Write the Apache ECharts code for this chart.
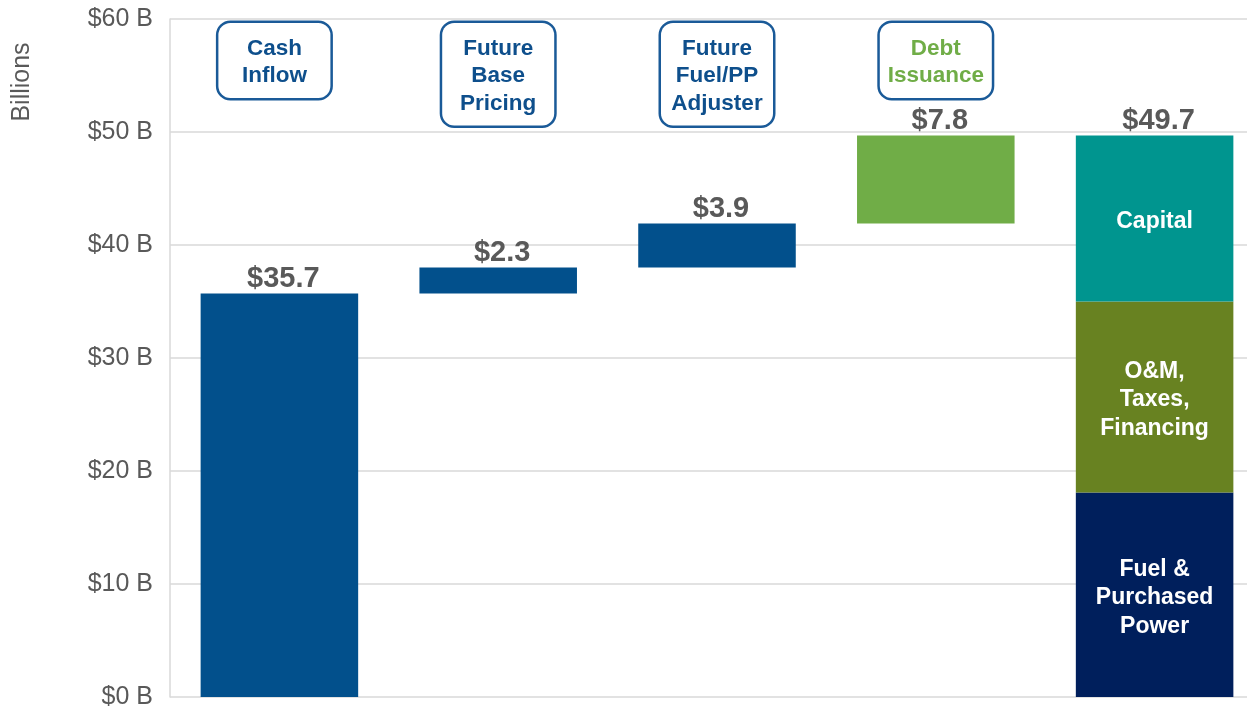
<!DOCTYPE html>
<html>
<head>
<meta charset="utf-8">
<title>Cash flow waterfall</title>
<script src="https://cdn.jsdelivr.net/npm/echarts@6/dist/echarts.min.js"></script>
<style>
    html, body { margin: 0; padding: 0; background: #fff; overflow: hidden; }
    /* 最后一列的右半部分在原图里被裁掉了，所以画布比窗口宽一点 */
    #chart { width: 1264px; height: 713px; }
</style>
</head>
<body>
<div id="chart"></div>
<script>
// 数据
const categories = ['Cash\nInflow', 'Future\nBase\nPricing', 'Future\nFuel/PP\nAdjuster', 'Debt\nIssuance', 'Total'];
const steps = [35.7, 2.3, 3.9, 7.8];          // 瀑布各步
const fuelPower = ['-', '-', '-', '-', 18.1];  // 最后一根柱子的构成
const omTaxFin = ['-', '-', '-', '-', 16.9];
const capital = ['-', '-', '-', '-', 14.7];
const totalLabel = 49.7;
const yTicks = { min: 0, max: 60, interval: 10 };

(function () {
    let myChart = echarts.init(document.getElementById('chart'));

    // 透明底座 = 前面各步累加
    let base = [];
    let acc = 0;
    steps.forEach(function (v, i) {
        base.push(i === 0 ? 0 : acc);
        acc += v;
    });
    base.push('-');

    let stepData = steps.map(function (v, i) {
        return {
            value: v,
            itemStyle: { color: i === 3 ? '#70AD47' : '#02508C' }
        };
    });
    stepData.push('-');

    // 顶部的圆角框
    let boxData = categories.slice(0, 4).map(function (c, i) {
        let item = { value: yTicks.max, name: c };
        if (i === 0) item.label = { offset: [-5, 0] };
        if (i === 3) item.label = { color: '#70AD47' };
        return item;
    });

    const valueLabel = {
        show: true,
        position: 'top',
        distance: 3,
        offset: [4, 3],
        color: '#595959',
        fontSize: 29,
        fontWeight: 'bold',
        fontFamily: 'Liberation Sans, Arial, sans-serif'
    };
    const innerLabel = {
        show: true,
        position: 'inside',
        offset: [0, 3],
        color: '#fff',
        fontSize: 23,
        lineHeight: 28.5,
        fontWeight: 'bold',
        fontFamily: 'Liberation Sans, Arial, sans-serif'
    };

    let option = {
        animation: false,
        grid: { left: 170, right: 0, top: 19, bottom: 16, containLabel: false },
        xAxis: {
            type: 'category',
            data: categories,
            axisLine: { show: false },
            axisTick: { show: false },
            axisLabel: { show: false }
        },
        yAxis: {
            type: 'value',
            min: yTicks.min,
            max: yTicks.max,
            interval: yTicks.interval,
            axisLine: { show: true, lineStyle: { color: '#D9D9D9', width: 1.5 } },
            axisTick: { show: false },
            axisLabel: {
                margin: 17,
                padding: [4, 0, 0, 0],
                color: '#595959',
                fontSize: 25,
                fontFamily: 'Liberation Sans, Arial, sans-serif',
                formatter: function (v) { return '$' + v + ' B'; }
            },
            splitLine: { lineStyle: { color: '#D9D9D9', width: 1.5 } }
        },
        graphic: [{
            type: 'text',
            x: 22,
            y: 82,
            rotation: Math.PI / 2,
            style: {
                text: 'Billions',
                fill: '#595959',
                fontSize: 25,
                fontFamily: 'Liberation Sans, Arial, sans-serif',
                align: 'center',
                verticalAlign: 'middle'
            }
        }],
        series: [
            {
                type: 'bar', stack: 'all', barWidth: '72%',
                data: base,
                itemStyle: { color: 'transparent' },
                silent: true
            },
            {
                type: 'bar', stack: 'all',
                data: stepData,
                label: Object.assign({}, valueLabel, {
                    formatter: function (p) { return '$' + p.value.toFixed(1); }
                })
            },
            {
                type: 'bar', stack: 'all',
                data: fuelPower,
                itemStyle: { color: '#001F5C' },
                label: Object.assign({}, innerLabel, { formatter: 'Fuel &\nPurchased\nPower' })
            },
            {
                type: 'bar', stack: 'all',
                data: omTaxFin,
                itemStyle: { color: '#688221' },
                label: Object.assign({}, innerLabel, { formatter: 'O&M,\nTaxes,\nFinancing' })
            },
            {
                type: 'bar', stack: 'all',
                data: capital,
                itemStyle: { color: '#00958F' },
                label: Object.assign({}, innerLabel, { formatter: 'Capital' })
            },
            {
                // 总额标签
                type: 'bar', stack: 'all',
                data: ['-', '-', '-', '-', 0],
                itemStyle: { color: 'transparent' },
                label: Object.assign({}, valueLabel, {
                    formatter: function () { return '$' + totalLabel.toFixed(1); }
                })
            },
            {
                type: 'scatter',
                symbolSize: 0,
                data: boxData,
                silent: true,
                itemStyle: { opacity: 1 },
                label: {
                    show: true,
                    position: 'bottom',
                    distance: 4,
                    formatter: function (p) { return p.name; },
                    color: '#0E4F8C',
                    fontSize: 22.5,
                    lineHeight: 27.5,
                    fontWeight: 'bold',
                    fontFamily: 'Liberation Sans, Arial, sans-serif',
                    align: 'center',
                    width: 96,
                    padding: [12, 8, 8, 8],
                    borderColor: '#1A5A98',
                    borderWidth: 2.5,
                    borderRadius: 12,
                    backgroundColor: '#fff'
                }
            }
        ]
    };

    myChart.setOption(option);

    window.addEventListener('resize', function () {
        myChart.resize();
    });
})();
</script>
</body>
</html>
